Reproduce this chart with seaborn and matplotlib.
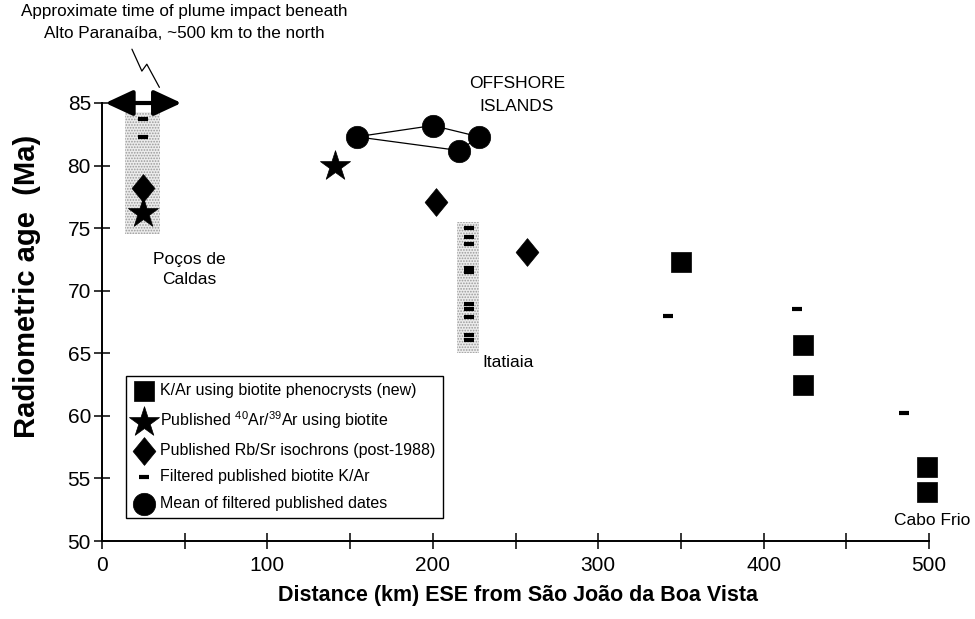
import matplotlib
matplotlib.use("Agg")
import matplotlib.pyplot as plt
from matplotlib.patches import Rectangle
from matplotlib.path import Path
from matplotlib.ticker import MultipleLocator
import seaborn as sns
import pandas as pd

# ---- data: distance (km) ESE from Sao Joao da Boa Vista, age (Ma) ----
kar_new_km = [350, 424, 424, 499, 499]
kar_new_age = [72.3, 65.7, 62.5, 55.9, 53.9]

arar_km = [25, 141]
arar_age = [76.2, 80.0]

rbsr_km = [25, 202, 257]
rbsr_age = [78.2, 77.1, 73.1]

filtered_km = [25, 25,
               222, 222, 222, 222, 222, 222, 222, 222, 222, 222,
               342, 420, 485]
filtered_age = [83.7, 82.3,
                75.0, 74.3, 73.7, 71.8, 71.5, 68.9, 68.5, 67.9, 66.5, 66.1,
                68.0, 68.5, 60.2]

mean_km = [154, 200, 216, 228]
mean_age = [82.3, 83.2, 81.2, 82.3]
# order in which the offshore-island means are joined
outline_order = [0, 1, 3, 2, 0]

# age ranges of the two massifs (km span, age span)
pocos_range = ((14, 35), (74.5, 84.3))
itatiaia_range = ((214.5, 228), (65.0, 75.5))

plume_window_km = (2, 48)
plume_age = 85

legend_labels = [
    "K/Ar using biotite phenocrysts (new)",
    "Published $^{40}$Ar/$^{39}$Ar using biotite",
    "Published Rb/Sr isochrons (post-1988)",
    "Filtered published biotite K/Ar",
    "Mean of filtered published dates",
]

sns.set_style("ticks")
plt.rcParams["font.family"] = ["Liberation Sans", "DejaVu Sans"]
plt.rcParams["mathtext.default"] = "regular"
plt.rcParams["hatch.linewidth"] = 0.8
for key in ("text.color", "axes.labelcolor", "xtick.color", "ytick.color"):
    plt.rcParams[key] = "black"

fig = plt.figure(figsize=(9.75, 6.19), dpi=100)
ax = fig.add_axes([102 / 975, 1 - 541 / 619, 827 / 975, 438 / 619])

# shaded age ranges
for (x0, x1), (y0, y1) in (pocos_range, itatiaia_range):
    ax.add_patch(Rectangle((x0, y0), x1 - x0, y1 - y0, facecolor="#ececec",
                           edgecolor="#9a9a9a", hatch="......", lw=0, zorder=1))

# thin outline joining offshore-island means
ax.plot([mean_km[i] for i in outline_order], [mean_age[i] for i in outline_order],
        color="black", lw=0.9, zorder=2)

diamond = Path([(0, 1), (0.82, 0), (0, -1), (-0.82, 0), (0, 1)],
               [Path.MOVETO, Path.LINETO, Path.LINETO, Path.LINETO, Path.CLOSEPOLY])

df_sq = pd.DataFrame({"km": kar_new_km, "age": kar_new_age})
df_st = pd.DataFrame({"km": arar_km, "age": arar_age})
df_di = pd.DataFrame({"km": rbsr_km, "age": rbsr_age})
df_da = pd.DataFrame({"km": filtered_km, "age": filtered_age})
df_ci = pd.DataFrame({"km": mean_km, "age": mean_age})

common = dict(ax=ax, zorder=4, clip_on=False)
sns.scatterplot(data=df_sq, x="km", y="age", marker="s", s=200, color="black",
                edgecolor="black", linewidth=0.5, label=legend_labels[0], **common)
sns.scatterplot(data=df_st, x="km", y="age", marker="*", s=520, color="black",
                edgecolor="black", linewidth=0.5, label=legend_labels[1], **common)
sns.scatterplot(data=df_di, x="km", y="age", marker=diamond, s=400, color="black",
                edgecolor="black", linewidth=0.5, label=legend_labels[2], **common)
sns.scatterplot(data=df_da, x="km", y="age", marker="_", s=60, color="black",
                linewidth=3, label=legend_labels[3], **common)
sns.scatterplot(data=df_ci, x="km", y="age", marker="o", s=260, color="black",
                edgecolor="black", linewidth=0.5, label=legend_labels[4], **common)

ax.set_xlim(0, 500)
ax.set_ylim(50, 85)
ax.xaxis.set_major_locator(MultipleLocator(100))
ax.xaxis.set_minor_locator(MultipleLocator(50))
ax.yaxis.set_major_locator(MultipleLocator(5))
ax.tick_params(which="both", direction="inout", length=12, width=1.1, color="black")
ax.tick_params(axis="x", which="major", labelsize=15, pad=5)
ax.tick_params(axis="y", which="major", labelsize=15, pad=2)
sns.despine(ax=ax)
for side in ("left", "bottom"):
    ax.spines[side].set_linewidth(1.4)
    ax.spines[side].set_color("black")

ax.set_xlabel("Distance (km) ESE from São João da Boa Vista", fontsize=15.5,
              fontweight="bold", va="top")
ax.set_ylabel("Radiometric age  (Ma)", fontsize=21, fontweight="bold")
ax.xaxis.set_label_coords(0.503, -0.1)
ax.yaxis.set_label_coords(-0.074, 0.582)

# plume-impact time window
ax.annotate("", xy=(plume_window_km[1], plume_age), xytext=(plume_window_km[0], plume_age),
            arrowprops=dict(arrowstyle="<|-|>,head_length=1.4,head_width=0.65",
                            lw=3, color="black", mutation_scale=12,
                            shrinkA=0, shrinkB=0),
            annotation_clip=False, zorder=5)
ax.plot([18.1, 24.1, 27.1, 34.7], [89.3, 87.55, 88.1, 86.25], color="black",
        lw=0.9, clip_on=False)
ax.text(49.5, 91.45, "Approximate time of plume impact beneath\nAlto Paranaíba, ~500 km to the north",
        ha="center", va="center", fontsize=12.3, linespacing=1.55, clip_on=False)

# place names
ax.text(53, 71.7, "Poços de\nCaldas", ha="center", va="center", fontsize=12.5,
        linespacing=1.4)
ax.text(250.8, 85.65, "OFFSHORE\nISLANDS", ha="center", va="center", fontsize=12.5,
        linespacing=1.7, clip_on=False)
ax.text(245.3, 64.3, "Itatiaia", ha="center", va="center", fontsize=12.5)
ax.text(502, 51.6, "Cabo Frio", ha="center", va="center", fontsize=12.5, clip_on=False)

leg = ax.legend(loc="lower left", bbox_to_anchor=(0.029, 0.0525), borderaxespad=0,
                frameon=True, fancybox=False, framealpha=1, edgecolor="black",
                fontsize=11.5, handletextpad=0.3, labelspacing=0.72,
                borderpad=0.45, handlelength=1.4, scatterpoints=1)
leg.get_frame().set_linewidth(1.0)

fig.savefig("out.png", dpi=100)
